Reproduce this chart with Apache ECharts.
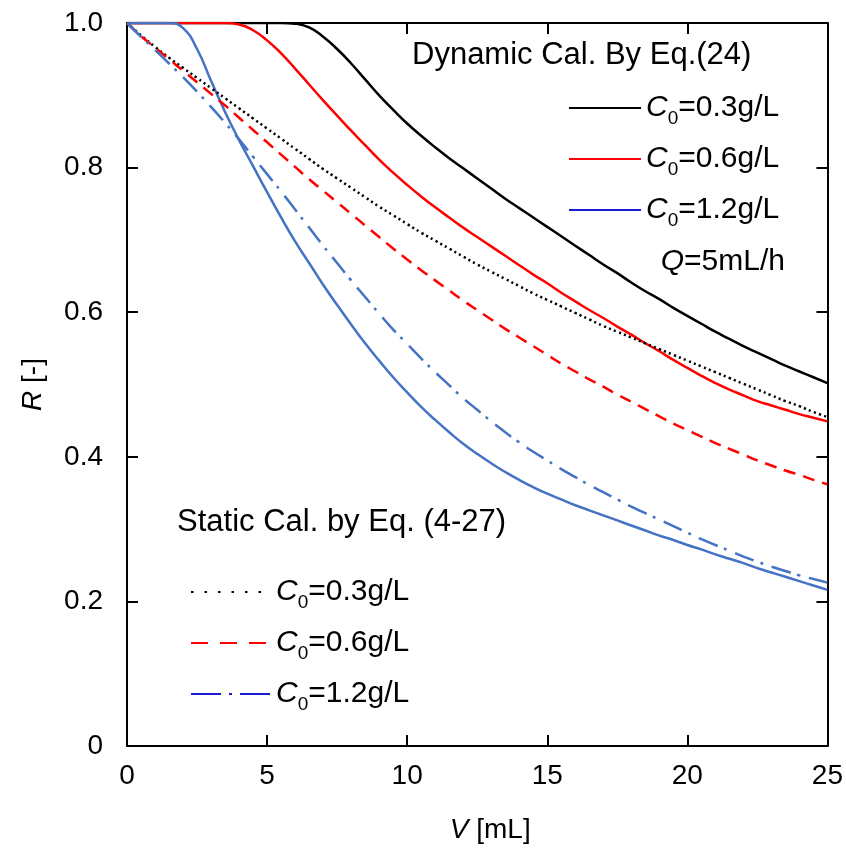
<!DOCTYPE html>
<html>
<head>
<meta charset="utf-8">
<script src="https://cdn.jsdelivr.net/npm/echarts@6/dist/echarts.min.js"></script>
<style>
  html, body { margin: 0; padding: 0; background: #fff; }
  #chart { width: 846px; height: 849px; }
</style>
</head>
<body>
<div id="chart"></div>
<script>
// Volume grid V [mL] shared by all curves (0.5 mL steps)
const volume = [0, 0.5, 1, 1.5, 2, 2.5, 3, 3.5, 4, 4.5, 5, 5.5, 6, 6.5, 7, 7.5, 8, 8.5, 9, 9.5,
  10, 10.5, 11, 11.5, 12, 12.5, 13, 13.5, 14, 14.5, 15, 15.5, 16, 16.5, 17, 17.5, 18, 18.5, 19, 19.5,
  20, 20.5, 21, 21.5, 22, 22.5, 23, 23.5, 24, 24.5, 25];

// Dynamic calculation, Eq.(24), Q = 5 mL/h
const dynamic03 = [1, 1, 1, 1, 1, 1, 1, 1, 1, 1, 1, 1, 0.999, 0.994, 0.981, 0.964, 0.944, 0.922, 0.900, 0.880,
  0.861, 0.844, 0.828, 0.813, 0.799, 0.785, 0.771, 0.757, 0.744, 0.731, 0.718, 0.705, 0.692, 0.679, 0.666, 0.654, 0.641, 0.629, 0.618, 0.606,
  0.595, 0.584, 0.573, 0.563, 0.553, 0.544, 0.535, 0.526, 0.518, 0.510, 0.502];
const dynamic06 = [1, 1, 1, 1, 1, 1, 1, 1, 0.998, 0.990, 0.976, 0.958, 0.937, 0.915, 0.893, 0.872, 0.851, 0.831, 0.811, 0.793,
  0.776, 0.760, 0.745, 0.731, 0.717, 0.704, 0.691, 0.678, 0.665, 0.652, 0.640, 0.627, 0.615, 0.603, 0.592, 0.580, 0.569, 0.557, 0.546, 0.534,
  0.523, 0.512, 0.502, 0.493, 0.485, 0.477, 0.471, 0.465, 0.459, 0.454, 0.449];
const dynamic12 = [1, 1, 1, 1, 0.993, 0.964, 0.920, 0.877, 0.838, 0.802, 0.766, 0.731, 0.698, 0.668, 0.638, 0.610, 0.583, 0.557, 0.533, 0.510,
  0.489, 0.469, 0.451, 0.434, 0.418, 0.404, 0.391, 0.379, 0.368, 0.358, 0.349, 0.341, 0.333, 0.326, 0.319, 0.312, 0.305, 0.298, 0.291, 0.285,
  0.278, 0.272, 0.265, 0.259, 0.253, 0.246, 0.240, 0.234, 0.228, 0.222, 0.216];

// Static calculation, Eq. (4-27)
const static03 = [1.000, 0.983, 0.967, 0.952, 0.938, 0.924, 0.910, 0.896, 0.882, 0.868, 0.854, 0.840, 0.826, 0.812, 0.798, 0.785, 0.772, 0.759, 0.746, 0.734,
  0.722, 0.710, 0.699, 0.688, 0.677, 0.666, 0.656, 0.646, 0.636, 0.626, 0.617, 0.608, 0.599, 0.590, 0.581, 0.573, 0.565, 0.557, 0.549, 0.541,
  0.533, 0.525, 0.517, 0.509, 0.501, 0.493, 0.485, 0.477, 0.470, 0.462, 0.455];
const static06 = [1.000, 0.982, 0.966, 0.950, 0.934, 0.918, 0.902, 0.886, 0.869, 0.852, 0.835, 0.818, 0.801, 0.784, 0.768, 0.752, 0.736, 0.720, 0.704, 0.688,
  0.673, 0.658, 0.644, 0.630, 0.616, 0.603, 0.590, 0.577, 0.565, 0.553, 0.541, 0.529, 0.518, 0.507, 0.497, 0.486, 0.476, 0.466, 0.456, 0.446,
  0.437, 0.428, 0.419, 0.411, 0.403, 0.395, 0.388, 0.381, 0.375, 0.368, 0.362];
const static12 = [1.000, 0.981, 0.963, 0.944, 0.925, 0.905, 0.884, 0.862, 0.839, 0.815, 0.791, 0.767, 0.742, 0.717, 0.692, 0.668, 0.644, 0.621, 0.598, 0.576,
  0.556, 0.536, 0.517, 0.499, 0.481, 0.465, 0.449, 0.434, 0.420, 0.407, 0.395, 0.383, 0.372, 0.361, 0.351, 0.341, 0.331, 0.322, 0.313, 0.304,
  0.295, 0.286, 0.278, 0.270, 0.262, 0.255, 0.248, 0.242, 0.236, 0.231, 0.226];

// Initial concentrations C0 [g/L] and axis settings
const concentrations = ['0.3', '0.6', '1.2'];
const xRange = { min: 0, max: 25, step: 5 };
const yRange = { min: 0, max: 1, step: 0.2 };

const FONT = '"Liberation Sans", Arial, Helvetica, sans-serif';
const RED = '#ff0000';
const CURVE_BLUE = '#4472c4';
const KEY_BLUE = '#1a1ad2';

const pairs = ys => volume.map((v, i) => [v, ys[i]]);

const curveDefs = [
  { name: 'Dynamic ' + concentrations[0], values: dynamic03, color: '#000000', type: 'solid' },
  { name: 'Dynamic ' + concentrations[1], values: dynamic06, color: RED, type: 'solid' },
  { name: 'Dynamic ' + concentrations[2], values: dynamic12, color: CURVE_BLUE, type: 'solid' },
  { name: 'Static ' + concentrations[0], values: static03, color: '#000000', type: [2.2, 3.2] },
  { name: 'Static ' + concentrations[1], values: static06, color: RED, type: [12, 8] },
  { name: 'Static ' + concentrations[2], values: static12, color: CURVE_BLUE, type: [20, 7, 3, 9] }
];

const series = curveDefs.map(c => ({
  name: c.name,
  type: 'line',
  data: pairs(c.values),
  symbol: 'none',
  smooth: 0.5,
  clip: true,
  itemStyle: { color: c.color },
  lineStyle: { color: c.color, width: 2.5, type: c.type }
}));

const textRich = {
  c: { fontSize: 30, fontStyle: 'italic', fontFamily: FONT, color: '#000', lineHeight: 40 },
  s: { fontSize: 19, fontFamily: FONT, color: '#000', lineHeight: 19, verticalAlign: 'bottom' },
  t: { fontSize: 30, fontFamily: FONT, color: '#000', lineHeight: 40 }
};
const keyLabel = name => '{c|C}{s|0}{t|=' + name.split(' ')[1] + 'g/L}';

const legendBase = {
  orient: 'vertical',
  padding: 0,
  itemHeight: 14,
  itemGap: 16,
  selectedMode: false,
  formatter: keyLabel,
  itemStyle: { opacity: 0 },
  textStyle: { fontSize: 30, fontFamily: FONT, color: '#000', rich: textRich }
};

const axisCommon = {
  type: 'value',
  splitLine: { show: false },
  axisLine: { show: true, onZero: false, lineStyle: { color: '#000', width: 2 } },
  axisTick: { show: true, inside: true, length: 11, lineStyle: { color: '#000', width: 2 } }
};

const option = {
  animation: false,
  backgroundColor: '#fff',
  grid: { left: 127, right: 18, top: 23, bottom: 101, containLabel: false },
  xAxis: [
    Object.assign({}, axisCommon, {
      position: 'bottom', min: xRange.min, max: xRange.max, interval: xRange.step,
      axisLabel: { margin: 16, fontSize: 28, fontFamily: FONT, color: '#000' },
      name: '{i|V} [mL]', nameLocation: 'middle', nameGap: 70,
      nameTextStyle: {
        fontSize: 28, fontFamily: FONT, color: '#000', padding: [0, 0, 0, 26],
        rich: { i: { fontSize: 28, fontFamily: FONT, fontStyle: 'italic', color: '#000' } }
      }
    }),
    Object.assign({}, axisCommon, {
      position: 'top', min: xRange.min, max: xRange.max, interval: xRange.step,
      axisLabel: { show: false }
    })
  ],
  yAxis: [
    Object.assign({}, axisCommon, {
      position: 'left', min: yRange.min, max: yRange.max, interval: yRange.step,
      axisLabel: {
        margin: 24, fontSize: 28, fontFamily: FONT, color: '#000',
        formatter: v => (v === 0 ? '0' : v.toFixed(1))
      },
      name: '{i|R} [-]', nameLocation: 'middle', nameGap: 80, nameRotate: 90,
      nameTextStyle: {
        fontSize: 28, fontFamily: FONT, color: '#000',
        rich: { i: { fontSize: 28, fontFamily: FONT, fontStyle: 'italic', color: '#000' } }
      }
    }),
    Object.assign({}, axisCommon, {
      position: 'right', min: yRange.min, max: yRange.max, interval: yRange.step,
      axisLabel: { show: false }
    })
  ],
  legend: [
    Object.assign({}, legendBase, {
      left: 568, top: 93, itemWidth: 72,
      data: [
        { name: curveDefs[0].name, lineStyle: { color: '#000000' } },
        { name: curveDefs[1].name, lineStyle: { color: RED } },
        { name: curveDefs[2].name, lineStyle: { color: KEY_BLUE } }
      ]
    }),
    Object.assign({}, legendBase, {
      left: 190, top: 577, itemWidth: 80,
      data: [
        { name: curveDefs[3].name, lineStyle: { color: '#000000', type: [2.5, 11] } },
        { name: curveDefs[4].name, lineStyle: { color: RED, type: [17, 12] } },
        { name: curveDefs[5].name, lineStyle: { color: KEY_BLUE, type: [30, 8, 3, 8] } }
      ]
    })
  ],
  graphic: [
    {
      type: 'text', x: 412, y: 55, silent: true,
      style: { text: 'Dynamic Cal. By Eq.(24)', fontSize: 31, fontFamily: FONT, fill: '#000', verticalAlign: 'middle' }
    },
    {
      type: 'text', x: 177, y: 522, silent: true,
      style: { text: 'Static Cal. by Eq. (4-27)', fontSize: 31, fontFamily: FONT, fill: '#000', verticalAlign: 'middle' }
    },
    {
      type: 'text', x: 785, y: 262, silent: true,
      style: {
        text: '{q|Q}{t|=5mL/h}', align: 'right', verticalAlign: 'middle', fill: '#000',
        rich: {
          q: { fontSize: 30, fontStyle: 'italic', fontFamily: FONT, fill: '#000' },
          t: { fontSize: 30, fontFamily: FONT, fill: '#000' }
        }
      }
    }
  ],
  series: series
};

const chart = echarts.init(document.getElementById('chart'), null, { renderer: 'canvas' });
chart.setOption(option);
</script>
</body>
</html>
